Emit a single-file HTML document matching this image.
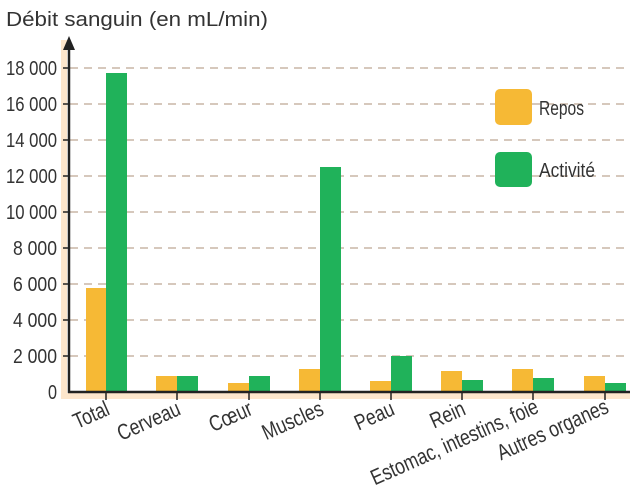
<!DOCTYPE html>
<html><head><meta charset="utf-8"><style>
body{margin:0;background:#fff}
svg text{font-family:"Liberation Sans Narrow","Liberation Sans",sans-serif;fill:#333}
</style></head><body>
<svg width="630" height="490" viewBox="0 0 630 490" xmlns="http://www.w3.org/2000/svg">
<rect x="61" y="40" width="6" height="358" fill="#fde6cc"/>
<rect x="61" y="393" width="569" height="6" fill="#fde6cc"/>
<g stroke="#c9b5a5" stroke-width="1.5" stroke-dasharray="8,6">
<line x1="70" y1="68" x2="630" y2="68"/><line x1="70" y1="104" x2="630" y2="104"/>
<line x1="70" y1="140" x2="630" y2="140"/><line x1="70" y1="176" x2="630" y2="176"/>
<line x1="70" y1="212" x2="630" y2="212"/><line x1="70" y1="248" x2="630" y2="248"/>
<line x1="70" y1="284" x2="630" y2="284"/><line x1="70" y1="320" x2="630" y2="320"/>
<line x1="70" y1="356" x2="630" y2="356"/>
</g>
<g fill="#f6b935">
<rect x="86" y="288" width="20" height="104"/>
<rect x="156" y="376" width="21" height="16"/>
<rect x="228" y="383" width="21" height="9"/>
<rect x="299" y="369" width="21" height="23"/>
<rect x="370" y="381" width="21" height="11"/>
<rect x="441" y="371" width="21" height="21"/>
<rect x="512" y="369" width="21" height="23"/>
<rect x="584" y="376" width="21" height="16"/>
</g>
<g fill="#20b25a">
<rect x="106" y="73" width="21" height="319"/>
<rect x="177" y="376" width="21" height="16"/>
<rect x="249" y="376" width="21" height="16"/>
<rect x="320" y="167" width="21" height="225"/>
<rect x="391" y="356" width="21" height="36"/>
<rect x="462" y="380" width="21" height="12"/>
<rect x="533" y="378" width="21" height="14"/>
<rect x="605" y="383" width="21" height="9"/>
</g>
<line x1="68" y1="392" x2="630" y2="392" stroke="#222" stroke-width="2.5"/>
<line x1="69" y1="48" x2="69" y2="393" stroke="#222" stroke-width="2.5"/>
<polygon points="69,36 63,50 75,50" fill="#222"/>
<g stroke="#222" stroke-width="1.5">
<line x1="63" y1="68" x2="69" y2="68"/><line x1="63" y1="104" x2="69" y2="104"/><line x1="63" y1="140" x2="69" y2="140"/><line x1="63" y1="176" x2="69" y2="176"/><line x1="63" y1="212" x2="69" y2="212"/><line x1="63" y1="248" x2="69" y2="248"/><line x1="63" y1="284" x2="69" y2="284"/><line x1="63" y1="320" x2="69" y2="320"/><line x1="63" y1="356" x2="69" y2="356"/>
<line x1="106" y1="392" x2="106" y2="400"/><line x1="177" y1="392" x2="177" y2="400"/><line x1="249" y1="392" x2="249" y2="400"/><line x1="320" y1="392" x2="320" y2="400"/><line x1="391" y1="392" x2="391" y2="400"/><line x1="462" y1="392" x2="462" y2="400"/><line x1="533" y1="392" x2="533" y2="400"/><line x1="605" y1="392" x2="605" y2="400"/>
</g>
<text x="6" y="26" font-size="20" textLength="262" lengthAdjust="spacingAndGlyphs">Débit sanguin (en mL/min)</text>
<g font-size="20">
<text x="6" y="75" textLength="51" lengthAdjust="spacingAndGlyphs">18 000</text>
<text x="6" y="111" textLength="51" lengthAdjust="spacingAndGlyphs">16 000</text>
<text x="6" y="147" textLength="51" lengthAdjust="spacingAndGlyphs">14 000</text>
<text x="6" y="183" textLength="51" lengthAdjust="spacingAndGlyphs">12 000</text>
<text x="6" y="219" textLength="51" lengthAdjust="spacingAndGlyphs">10 000</text>
<text x="13" y="255" textLength="44" lengthAdjust="spacingAndGlyphs">8 000</text>
<text x="13" y="291" textLength="44" lengthAdjust="spacingAndGlyphs">6 000</text>
<text x="13" y="327" textLength="44" lengthAdjust="spacingAndGlyphs">4 000</text>
<text x="13" y="363" textLength="44" lengthAdjust="spacingAndGlyphs">2 000</text>
<text x="48" y="399" textLength="9" lengthAdjust="spacingAndGlyphs">0</text>
</g>
<g font-size="22" text-anchor="end">
<text transform="translate(111,414) rotate(-24) scale(0.8,1)">Total</text>
<text transform="translate(182,414) rotate(-24) scale(0.8,1)">Cerveau</text>
<text transform="translate(254,414) rotate(-24) scale(0.8,1)">Cœur</text>
<text transform="translate(325,414) rotate(-24) scale(0.8,1)">Muscles</text>
<text transform="translate(396,414) rotate(-24) scale(0.8,1)">Peau</text>
<text transform="translate(467,414) rotate(-24) scale(0.8,1)">Rein</text>
<text transform="translate(540,412) rotate(-24) scale(0.8,1)">Estomac, intestins, foie</text>
<text transform="translate(610,412) rotate(-24) scale(0.8,1)">Autres organes</text>
</g>
<rect x="495" y="89" width="37" height="36" rx="5" fill="#f6b935"/>
<rect x="495" y="152" width="37" height="35" rx="5" fill="#20b25a"/>
<text x="539" y="115" font-size="20" textLength="45" lengthAdjust="spacingAndGlyphs">Repos</text>
<text x="539" y="177" font-size="20" textLength="56" lengthAdjust="spacingAndGlyphs">Activité</text>
</svg>
</body></html>
